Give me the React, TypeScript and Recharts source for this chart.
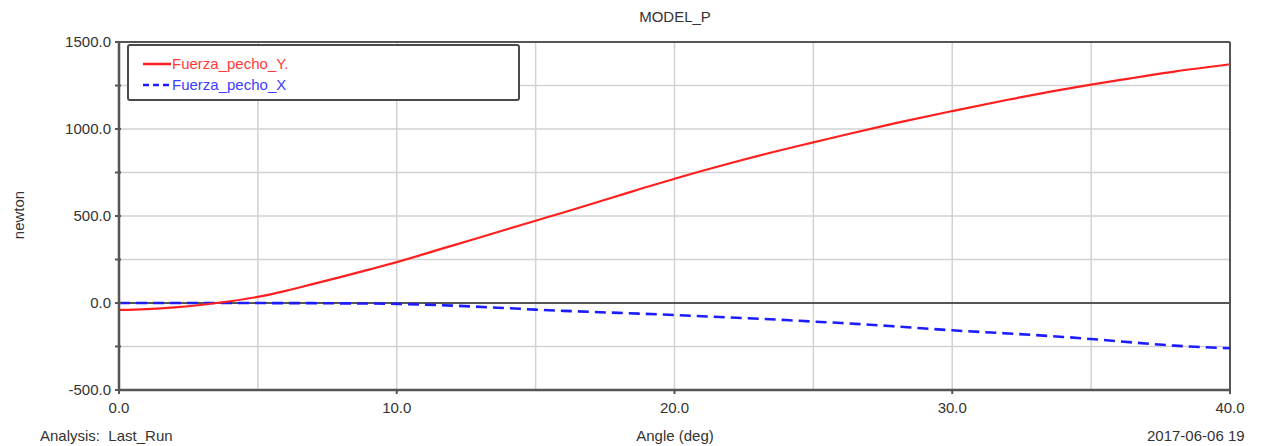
import React from 'react';
import { LineChart, Line, XAxis, YAxis, CartesianGrid, ReferenceLine } from 'recharts';

const redColor = '#ff1f1f';
const blueColor = '#1c1cff';
const axisColor = '#555555';
const gridColor = '#d2d2d2';
const fontFamily = '"Liberation Sans", Arial, sans-serif';

// angle (deg) samples
const angles = [0, 1, 2, 3, 4, 5, 6, 7, 8, 9, 10, 12, 14, 15, 16, 18, 20, 22, 24, 25, 26, 28, 30, 32, 34, 35, 36, 38, 40];
// Fuerza_pecho_Y (newton)
const fuerzaY = [-40, -35, -25, -10, 10, 35, 70, 110, 150, 192, 235, 330, 425, 473, 520, 618, 714, 803, 885, 923, 961, 1035, 1103, 1168, 1228, 1255, 1281, 1330, 1372];
// Fuerza_pecho_X (newton)
const fuerzaX = [0, 0, 0, 0, 0, 0, -1, -1, -2, -3, -5, -15, -30, -38, -45, -57, -69, -83, -98, -107, -115, -135, -157, -175, -195, -207, -220, -245, -260];

const xTicks = [0, 5, 10, 15, 20, 25, 30, 35, 40];
const yTicks = [-500, -250, 0, 250, 500, 750, 1000, 1250, 1500];

const data = angles.map((a, i) => ({ angle: a, Y: fuerzaY[i], X: fuerzaX[i] }));

const legendItems = [
  { name: 'Fuerza_pecho_Y.', color: redColor, dash: undefined, text: '#ff3a3a' },
  { name: 'Fuerza_pecho_X', color: blueColor, dash: '6 4', text: '#3d3dff' },
];

const LegendBox = () => (
  <div
    style={{
      position: 'absolute',
      left: 127,
      top: 44,
      width: 393,
      height: 57,
      border: '2px solid #4a4a4a',
      borderRadius: 3,
      background: '#fff',
      boxSizing: 'border-box',
      paddingTop: 7,
      paddingLeft: 14,
    }}
  >
    {legendItems.map((it) => (
      <div key={it.name} style={{ display: 'flex', alignItems: 'center', height: 21 }}>
        <svg width={28} height={10}>
          <line x1={0} y1={5} x2={28} y2={5} stroke={it.color} strokeWidth={2.5} strokeDasharray={it.dash} />
        </svg>
        <span style={{ color: it.text, fontSize: 15, fontFamily, marginLeft: 1 }}>{it.name}</span>
      </div>
    ))}
  </div>
);

const XTick = (props: any) => {
  const { x, y, payload } = props;
  if (payload.value % 10 !== 0) return null;
  return (
    <g>
      <line x1={x} y1={y - 8} x2={x} y2={y - 4} stroke={axisColor} strokeWidth={2} />
      <text x={x} y={y + 15} textAnchor="middle" fill="#333" fontSize={15} fontFamily={fontFamily}>
        {payload.value.toFixed(1)}
      </text>
    </g>
  );
};

const YTick = (props: any) => {
  const { x, y, payload } = props;
  return (
    <g>
      <line x1={x + 4} y1={y} x2={x + 10} y2={y} stroke={axisColor} strokeWidth={2} />
      {payload.value % 500 === 0 && (
        <text x={x} y={y + 5} textAnchor="end" fill="#333" fontSize={15} fontFamily={fontFamily}>
          {payload.value.toFixed(1)}
        </text>
      )}
    </g>
  );
};

const App = () => {
  return (
    <div style={{ position: 'absolute', left: 0, top: 0, width: 1276, height: 446, background: '#fff', fontFamily }}>
      <div style={{ position: 'absolute', left: 0, width: 1350, top: 8, textAlign: 'center', fontSize: 15, color: '#333' }}>
        MODEL_P
      </div>
      <div
        style={{
          position: 'absolute',
          left: 18,
          top: 215,
          transform: 'translate(-50%, -50%) rotate(-90deg)',
          fontSize: 15,
          color: '#333',
        }}
      >
        newton
      </div>
      <LineChart width={1276} height={446} data={data} margin={{ top: 42, right: 46, bottom: 26, left: 0 }}>
        <CartesianGrid stroke={gridColor} strokeWidth={1.5} />
        <XAxis
          dataKey="angle"
          type="number"
          domain={[0, 40]}
          ticks={xTicks}
          tick={<XTick />}
          tickLine={false}
          axisLine={{ stroke: axisColor, strokeWidth: 2.5 }}
          height={30}
        />
        <YAxis
          type="number"
          domain={[-500, 1500]}
          ticks={yTicks}
          tick={<YTick />}
          tickLine={false}
          axisLine={{ stroke: axisColor, strokeWidth: 2.5 }}
          width={119}
        />
        <ReferenceLine y={0} stroke={axisColor} strokeWidth={2} />
        <ReferenceLine y={1500} stroke={axisColor} strokeWidth={2} />
        <ReferenceLine x={40} stroke={axisColor} strokeWidth={2} />
        <Line type="monotone" dataKey="X" name="Fuerza_pecho_X" stroke={blueColor} strokeWidth={2.6} strokeDasharray="11 6" dot={false} isAnimationActive={false} />
        <Line type="monotone" dataKey="Y" name="Fuerza_pecho_Y." stroke={redColor} strokeWidth={2.2} dot={false} isAnimationActive={false} />
      </LineChart>
      <LegendBox />
      <div style={{ position: 'absolute', left: 40, top: 427, fontSize: 15, color: '#333', whiteSpace: 'pre' }}>
        Analysis:  Last_Run
      </div>
      <div style={{ position: 'absolute', left: 0, width: 1350, top: 427, textAlign: 'center', fontSize: 15, color: '#333' }}>
        Angle (deg)
      </div>
      <div style={{ position: 'absolute', left: 1147, top: 427, fontSize: 15, color: '#333', whiteSpace: 'nowrap' }}>
        2017-06-06 19
      </div>
    </div>
  );
};

export default App;
